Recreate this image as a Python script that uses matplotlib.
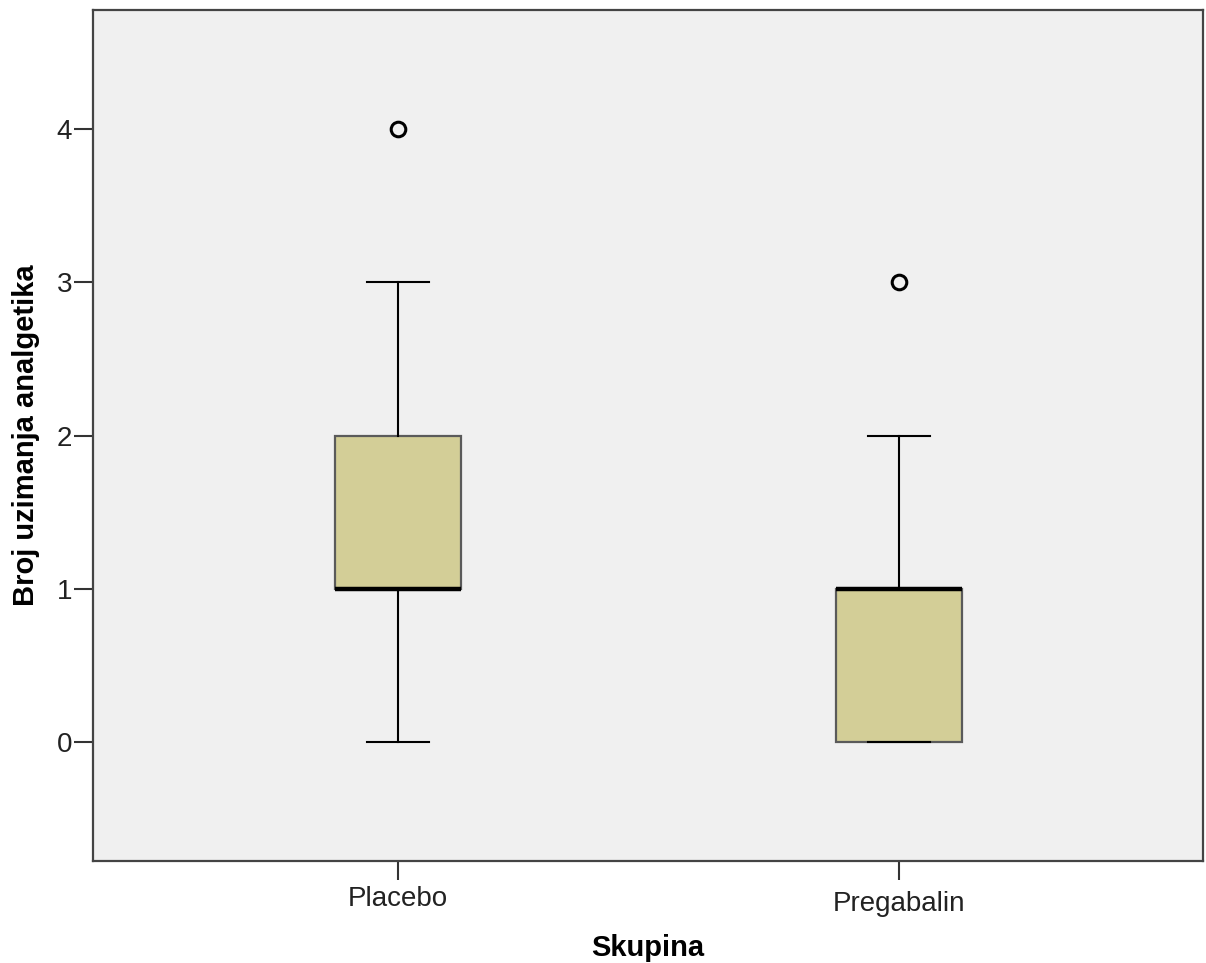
import matplotlib
matplotlib.use("Agg")
import matplotlib.pyplot as plt
from matplotlib.transforms import ScaledTranslation

# five-number summaries
groups = ["Placebo", "Pregabalin"]
whislo = [0, 0]
q1 = [1, 0]
med = [1, 1]
q3 = [2, 1]
whishi = [3, 2]
fliers = [[4], [3]]

plt.rcParams['font.family'] = ['Liberation Sans', 'DejaVu Sans']

stats = []
for i, g in enumerate(groups):
    stats.append(dict(label=g, whislo=whislo[i], q1=q1[i], med=med[i],
                      q3=q3[i], whishi=whishi[i], fliers=fliers[i]))

fig = plt.figure(figsize=(12.06, 9.63), dpi=100)
ax = fig.add_axes([0.0771, 0.1059, 0.9204, 0.8837])
ax.set_facecolor('#f0f0f0')

ax.bxp(stats, positions=[1, 2], widths=0.25, patch_artist=True,
       boxprops=dict(facecolor='#d3ce97', edgecolor='#5a5a5a', linewidth=1.6),
       medianprops=dict(color='black', linewidth=3.2),
       whiskerprops=dict(color='black', linewidth=1.5),
       capprops=dict(color='black', linewidth=1.5),
       capwidths=0.125,
       flierprops=dict(marker='o', markersize=10.5, markerfacecolor='none',
                       markeredgecolor='black', markeredgewidth=2.2),
       zorder=3)

ax.set_xlim(0.391, 2.607)
ax.set_ylim(-0.777, 4.777)
ax.set_yticks([0, 1, 2, 3, 4])
ax.set_xticks([1, 2])
ax.set_xticklabels(groups)

for s in ax.spines.values():
    s.set_color('#444444')
    s.set_linewidth(1.6)

ax.tick_params(axis='both', direction='out', length=14, width=1.5,
               color='#333333', labelsize=20, labelcolor='#222222')
ax.tick_params(axis='y', pad=1)
ax.tick_params(axis='x', pad=4)

# SPSS centres labels with descenders a little lower
lbl = ax.get_xticklabels()[1]
lbl.set_transform(lbl.get_transform() + ScaledTranslation(0, -5 / 100, fig.dpi_scale_trans))

ax.set_xlabel("Skupina", fontsize=21, fontweight='bold', labelpad=12)
ax.set_ylabel("Broj uzimanja analgetika", fontsize=21, fontweight='bold', labelpad=12)

fig.savefig("out.png", dpi=100, facecolor='white')
